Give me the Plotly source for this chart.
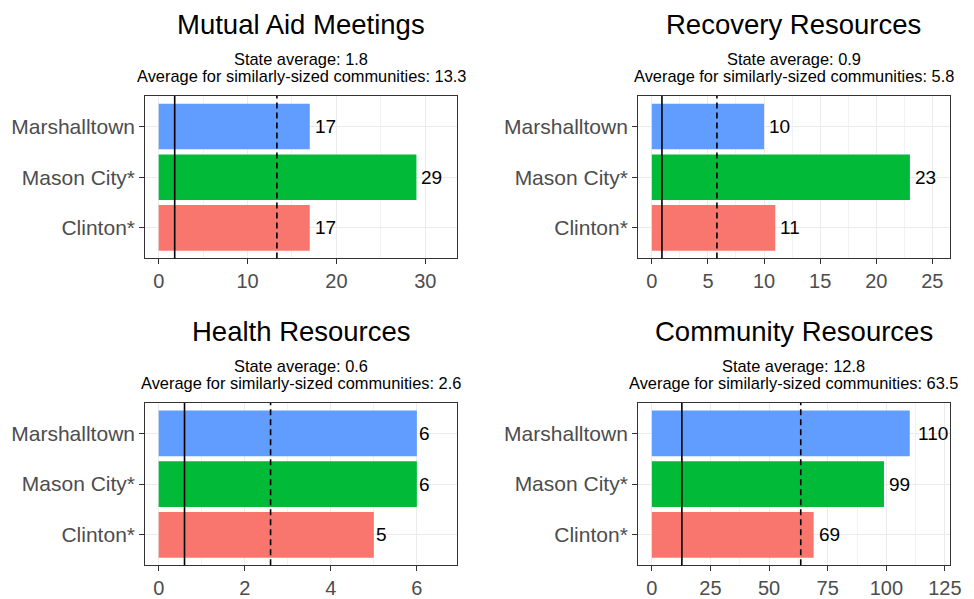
import plotly.graph_objects as go

W, H = 974, 599

cities = ["Clinton*", "Mason City*", "Marshalltown"]
city_colors = ["#F8766D", "#00BA38", "#619CFF"]

titles = ["Mutual Aid Meetings", "Recovery Resources", "Health Resources", "Community Resources"]
values = [
    [17, 29, 17],
    [11, 23, 10],
    [5, 6, 6],
    [69, 99, 110],
]
state_avg = [1.8, 0.9, 0.6, 12.8]
similar_avg = [13.3, 5.8, 2.6, 63.5]
x_ranges = [[-1.52, 33.6], [-1.23, 26.56], [-0.314, 6.94], [-5.9, 127.1]]
x_dtick = [10, 5, 2, 25]

# panel pixel boxes: (left, right, top, bottom)
boxes = [
    (147, 463, 97, 261),
    (646, 961.7, 97, 261),
    (147, 463, 407, 571),
    (646, 961.7, 407, 571),
]

def px(x):
    return x / W

def py(y):
    return 1 - y / H

fig = go.Figure()
layout = dict(
    width=W, height=H, autosize=False,
    margin=dict(l=0, r=0, t=0, b=0),
    paper_bgcolor="white", plot_bgcolor="white",
    showlegend=False,
    font=dict(family="Liberation Sans, Arial, sans-serif"),
    annotations=[], shapes=[],
)

for i in range(4):
    xa = "x" if i == 0 else f"x{i+1}"
    ya = "y" if i == 0 else f"y{i+1}"
    xkey = "xaxis" if i == 0 else f"xaxis{i+1}"
    ykey = "yaxis" if i == 0 else f"yaxis{i+1}"
    l, r, t, b = boxes[i]
    fig.add_trace(go.Bar(
        x=values[i], y=cities, orientation="h",
        marker=dict(color=city_colors, line=dict(width=0)),
        width=0.9, xaxis=xa, yaxis=ya, hoverinfo="skip",
    ))
    layout[xkey] = dict(
        domain=[px(l), px(r)], anchor=ya, range=x_ranges[i],
        tick0=0, dtick=x_dtick[i], ticks="outside", ticklen=5, tickwidth=1,
        tickcolor="#333333", showline=True, mirror=True, linecolor="#333333",
        linewidth=1, showgrid=True, gridcolor="#EBEBEB", gridwidth=1.2,
        minor=dict(showgrid=True, dtick=x_dtick[i] / 2, gridcolor="#F2F2F2", gridwidth=0.6, tick0=0),
        zeroline=False, tickfont=dict(size=20, color="#4D4D4D"),
        fixedrange=True,
    )
    layout[ykey] = dict(
        domain=[py(b), py(t)], anchor=xa, type="category",
        categoryorder="array", categoryarray=cities, range=[-0.6, 2.6],
        ticks="outside", ticklen=5, tickwidth=1, tickcolor="#333333",
        showline=True, mirror=True, linecolor="#333333", linewidth=1,
        showgrid=True, gridcolor="#EBEBEB", gridwidth=1.2, zeroline=False,
        tickfont=dict(size=21, color="#4D4D4D"), fixedrange=True,
    )
    # reference lines
    layout["shapes"].append(dict(type="line", xref=xa, yref=f"{ya} domain",
                                 x0=state_avg[i], x1=state_avg[i], y0=0, y1=1,
                                 line=dict(color="black", width=1.6)))
    layout["shapes"].append(dict(type="line", xref=xa, yref=f"{ya} domain",
                                 x0=similar_avg[i], x1=similar_avg[i], y0=0, y1=1,
                                 line=dict(color="black", width=1.6, dash="6px,4px")))
    # value labels
    for c, v in zip(cities, values[i]):
        lab = str(v)
        layout["annotations"].append(dict(
            x=v, y=c, xref=xa, yref=ya, text=lab, showarrow=False,
            xanchor="left", yanchor="middle", xshift=3 * len(lab) - 3,
            font=dict(size=19, color="black"),
        ))
    cx = (l + r) / 2
    layout["annotations"].append(dict(
        x=px(cx), y=py(t - 72), xref="paper", yref="paper", text=titles[i],
        showarrow=False, xanchor="center", yanchor="middle",
        font=dict(size=27.5, color="black"),
    ))
    layout["annotations"].append(dict(
        x=px(cx), y=py(t - 37.5), xref="paper", yref="paper",
        text=f"State average: {state_avg[i]}", showarrow=False,
        xanchor="center", yanchor="middle", font=dict(size=16.4, color="black"),
    ))
    layout["annotations"].append(dict(
        x=px(cx), y=py(t - 20), xref="paper", yref="paper",
        text=f"Average for similarly-sized communities: {similar_avg[i]}", showarrow=False,
        xanchor="center", yanchor="middle", font=dict(size=16.4, color="black"),
    ))

fig.update_layout(**layout)
fig.write_html(
    "out.html",
    config={"displayModeBar": False, "responsive": False},
    post_script="document.body.style.margin='0';document.documentElement.style.overflow='hidden';",
)
